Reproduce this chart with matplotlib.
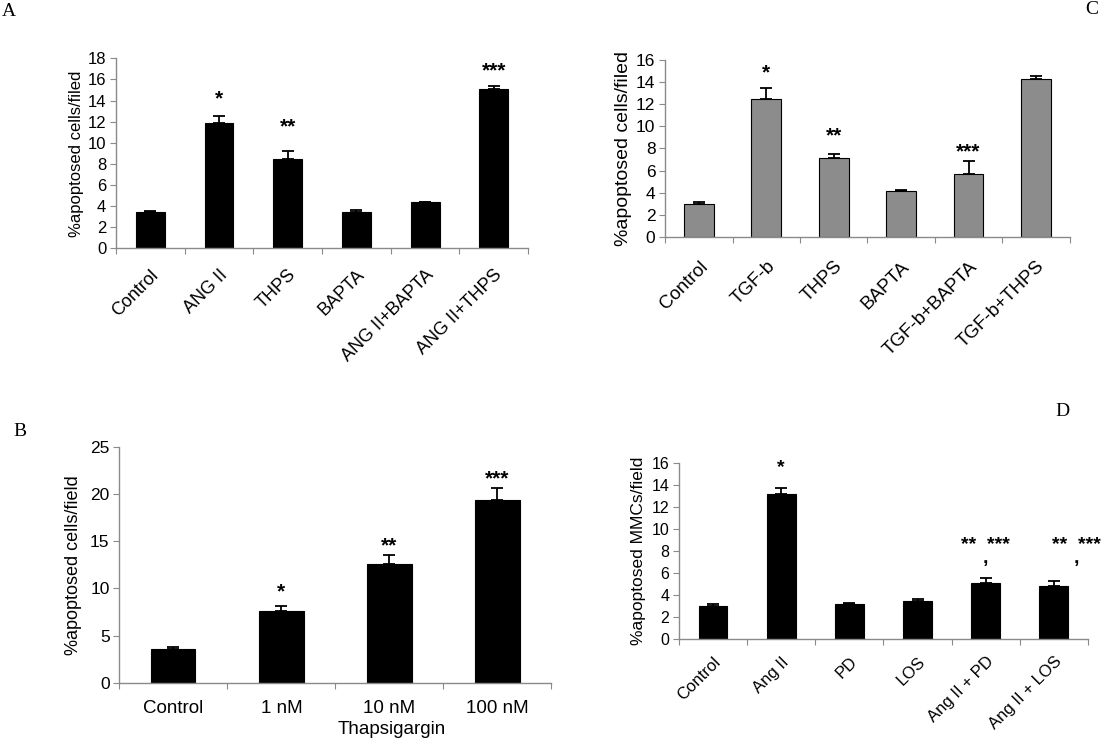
import numpy as np
import matplotlib
matplotlib.use("Agg")
import matplotlib.pyplot as plt

plt.rcParams['font.family'] = ['Liberation Sans', 'DejaVu Sans']

# panel A
a_labels = ["Control", "ANG II", "THPS", "BAPTA", "ANG II+BAPTA", "ANG II+THPS"]
a_vals = [3.4, 11.9, 8.5, 3.4, 4.4, 15.1]
a_err = [0.1, 0.6, 0.7, 0.25, 0.0, 0.3]
a_stars = ["", "*", "**", "", "", "***"]
a_star_y = [0, 14.2, 11.5, 0, 0, 16.8]

# panel C
c_labels = ["Control", "TGF-b", "THPS", "BAPTA", "TGF-b+BAPTA", "TGF-b+THPS"]
c_vals = [3.0, 12.5, 7.1, 4.2, 5.7, 14.3]
c_err = [0.2, 1.0, 0.4, 0.05, 1.2, 0.2]
c_stars = ["", "*", "**", "", "***", ""]
c_star_y = [0, 14.8, 9.1, 0, 7.7, 0]

# panel B
b_labels = ["Control", "1 nM", "10 nM", "100 nM"]
b_vals = [3.6, 7.6, 12.6, 19.3]
b_err = [0.15, 0.5, 0.9, 1.3]
b_stars = ["", "*", "**", "***"]
b_star_y = [0, 9.6, 14.5, 21.6]

# panel D  (comma sits under the stars, so it goes on a second line)
d_labels = ["Control", "Ang II", "PD", "LOS", "Ang II + PD", "Ang II + LOS"]
d_vals = [3.0, 13.2, 3.2, 3.45, 5.1, 4.85]
d_err = [0.2, 0.5, 0.1, 0.15, 0.45, 0.45]
d_stars = ["", "*", "", "", "**  ***\n,", "**  ***\n,"]
d_star_y = [0, 15.6, 0, 0, 7.9, 7.9]
d_star_dx = [0, 0, 0, 0, 0, 0.33]

spine_col = "#8a8a8a"


def panel(ax, labels, vals, err, ymax, ystep, color, width, yfs, xfs, pad, rot=True):
    x = np.arange(len(vals)) + 0.5
    ax.bar(x, vals, width=width, color=color, edgecolor="black", linewidth=0.8, zorder=2)
    ax.errorbar(x, vals, yerr=[np.zeros(len(err)), err], fmt="none", ecolor="black",
                elinewidth=1.3, capsize=4.5, capthick=1.3, zorder=3)
    ax.set_xlim(0, len(vals))
    ax.set_ylim(0, ymax)
    ax.set_yticks(np.arange(0, ymax + 0.1, ystep))
    # group boundaries get the tick marks, names sit on minor ticks at bar centres
    ax.set_xticks(np.arange(len(vals) + 1))
    ax.set_xticklabels([])
    ax.set_xticks(x, minor=True)
    if rot:
        ax.set_xticklabels(labels, minor=True, rotation=45, ha="right",
                           rotation_mode="anchor", fontsize=xfs)
    else:
        ax.set_xticklabels(labels, minor=True, fontsize=xfs)
    ax.tick_params(axis="x", which="minor", length=0, pad=pad)
    ax.tick_params(axis="x", which="major", length=4, color=spine_col, direction="out")
    ax.tick_params(axis="y", length=4, color=spine_col, labelsize=yfs, pad=3)
    for s in ["top", "right"]:
        ax.spines[s].set_visible(False)
    for s in ["left", "bottom"]:
        ax.spines[s].set_color(spine_col)
        ax.spines[s].set_linewidth(1.0)
    return x


def stars(ax, x, marks, ys, fs, dx=None):
    for i, (m, y) in enumerate(zip(marks, ys)):
        if m:
            off = dx[i] if dx is not None else 0
            ax.text(x[i] + off, y, m, ha="center", va="center", fontsize=fs,
                    fontweight="bold", linespacing=0.75, multialignment="center",
                    zorder=4)


fig = plt.figure(figsize=(11.05, 7.48), dpi=100)

axA = fig.add_axes([0.105, 0.668, 0.373, 0.254])
xA = panel(axA, a_labels, a_vals, a_err, 18, 2, "black", 0.42, 12, 13, 13)
stars(axA, xA, a_stars, a_star_y, 15)
axA.set_ylabel("%apoptosed cells/filed", fontsize=12, labelpad=3)

axC = fig.add_axes([0.602, 0.683, 0.366, 0.237])
xC = panel(axC, c_labels, c_vals, c_err, 16, 2, "#8c8c8c", 0.44, 12.5, 13.5, 15)
stars(axC, xC, c_stars, c_star_y, 15)
axC.set_ylabel("%apoptosed cells/filed", fontsize=14, labelpad=3)

axB = fig.add_axes([0.108, 0.087, 0.391, 0.316])
xB = panel(axB, b_labels, b_vals, b_err, 25, 5, "black", 0.41, 12.5, 13.5, 12, rot=False)
stars(axB, xB, b_stars, b_star_y, 15)
axB.set_ylabel("%apoptosed cells/field", fontsize=13, labelpad=6)
axB.set_xlabel("Thapsigargin", fontsize=13.5)
axB.xaxis.set_label_coords(0.63, -0.16)

axD = fig.add_axes([0.6145, 0.146, 0.370, 0.235])
xD = panel(axD, d_labels, d_vals, d_err, 16, 2, "black", 0.42, 11.5, 12, 11)
stars(axD, xD, d_stars, d_star_y, 14, d_star_dx)
axD.set_ylabel("%apoptosed MMCs/field", fontsize=12.5, labelpad=4)

# panel letters
for lbl, px, py in [("A", 9, 12), ("C", 1092, 10), ("B", 20, 432), ("D", 1062, 412)]:
    fig.text(px / 1105, 1 - py / 748, lbl, ha="center", va="center",
             fontsize=14, family="Liberation Serif")

fig.savefig("out.png", dpi=100)
